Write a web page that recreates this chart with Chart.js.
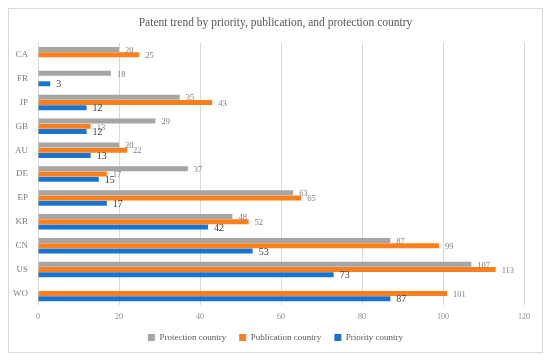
<!DOCTYPE html>
<html>
<head>
<meta charset="utf-8">
<script src="https://cdn.jsdelivr.net/npm/chart.js@4"></script>
<style>
  body { margin: 0; background: #fff; }
  #wrap {
    position: absolute; left: 8px; top: 8px;
    width: 533px; height: 343px;
    border: 1px solid #d9d9d9;
  }
</style>
</head>
<body>
<div id="wrap"><canvas id="chart"></canvas></div>
<script>
const countries = ['CA', 'FR', 'JP', 'GB', 'AU', 'DE', 'EP', 'KR', 'CN', 'US', 'WO'];
const protectionCounts = [20, 18, 35, 29, 20, 37, 63, 48, 87, 107, null];
const publicationCounts = [25, null, 43, 13, 22, 17, 65, 52, 99, 113, 101];
const priorityCounts = [null, 3, 12, 12, 13, 15, 17, 42, 53, 73, 87];

const serif = "'Liberation Serif', serif";

// value labels at the end of each bar
const barLabels = {
    id: 'barLabels',
    afterDatasetsDraw(chart) {
        const ctx = chart.ctx;
        ctx.save();
        ctx.textBaseline = 'middle';
        ctx.textAlign = 'left';
        chart.data.datasets.forEach((ds, i) => {
            const meta = chart.getDatasetMeta(i);
            const big = ds.label === 'Priority country';
            ctx.font = (big ? '10px ' : '8.5px ') + serif;
            ctx.fillStyle = big ? '#404040' : '#808080';
            meta.data.forEach((bar, j) => {
                const v = ds.data[j];
                if (v === null || v === undefined) return;
                ctx.fillText(String(v), bar.x + 6, bar.y + 1);
            });
        });
        ctx.restore();
    }
};

new Chart(document.getElementById('chart').getContext('2d'), {
    type: 'bar',
    data: {
        labels: countries,
        datasets: [
            { label: 'Protection country', data: protectionCounts, backgroundColor: '#a5a5a5' },
            { label: 'Publication country', data: publicationCounts, backgroundColor: '#fd7f1d' },
            { label: 'Priority country', data: priorityCounts, backgroundColor: '#1a73cc' }
        ]
    },
    options: {
        indexAxis: 'y',
        responsive: true,
        maintainAspectRatio: false,
        animation: false,
        datasets: {
            bar: { categoryPercentage: 0.66, barPercentage: 0.95 }
        },
        layout: { padding: { left: 0, right: 0, top: 0, bottom: 0 } },
        scales: {
            x: {
                min: 0,
                max: 120,
                ticks: { stepSize: 20, color: '#8c8c8c', font: { family: serif, size: 8 }, padding: 7 },
                grid: { color: '#d9d9d9', drawTicks: false },
                border: { display: false }
            },
            y: {
                ticks: { color: '#7f7f7f', font: { family: serif, size: 9 }, padding: 10 },
                grid: { display: false, drawTicks: false },
                border: { display: false },
                afterFit(scale) { scale.width = 29; }
            },
            // empty spacer on the right so title/legend stay centred in the box
            spacer: {
                type: 'category',
                axis: 'y',
                position: 'right',
                ticks: { display: false },
                grid: { display: false, drawTicks: false },
                border: { display: false },
                afterFit(scale) { scale.width = 18; }
            }
        },
        plugins: {
            title: {
                display: true,
                text: 'Patent trend by priority, publication, and protection country',
                color: '#595959',
                font: { family: serif, size: 11.5, weight: 'normal' },
                padding: { top: 7, bottom: 13 }
            },
            legend: {
                position: 'bottom',
                labels: {
                    color: '#595959',
                    font: { family: serif, size: 9, lineHeight: 1.05 },
                    boxWidth: 7,
                    boxHeight: 7,
                    padding: 4,
                    // widen the gap between items without adding vertical space
                    generateLabels(chart) {
                        const items = Chart.defaults.plugins.legend.labels.generateLabels(chart);
                        items.forEach((it, k) => {
                            if (k < items.length - 1) it.text += '\u2002\u2002';
                        });
                        return items;
                    }
                }
            },
            tooltip: { enabled: false }
        }
    },
    plugins: [barLabels]
});
</script>
</body>
</html>
